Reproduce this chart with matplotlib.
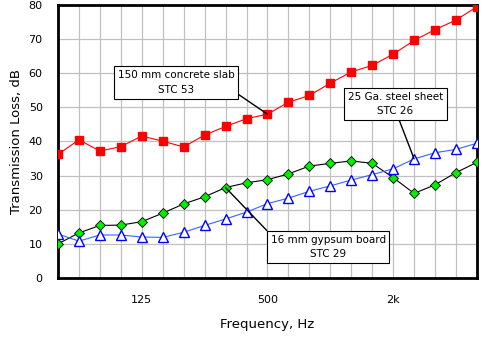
import matplotlib
matplotlib.use('Agg')
import matplotlib.pyplot as plt

# Third-octave bands 50 Hz .. 5 kHz
bands = ['50', '63', '80', '100', '125', '160', '200', '250', '315', '400', '500',
         '630', '800', '1k', '1.25k', '1.6k', '2k', '2.5k', '3.15k', '4k', '5k']
tickLabels = {'125': '125', '500': '500', '2k': '2k'}

concrete = [36.2, 40.5, 37.2, 38.5, 41.6, 40.1, 38.4, 41.9, 44.4, 46.7, 48.0,
            51.5, 53.5, 57.1, 60.4, 62.3, 65.6, 69.6, 72.8, 75.6, 79.5]
gypsum = [10.0, 13.2, 15.4, 15.5, 16.5, 19.0, 21.7, 23.8, 26.5, 27.9, 28.8,
          30.5, 32.8, 33.6, 34.3, 33.6, 29.4, 24.8, 27.3, 30.9, 33.9]
steel = [12.9, 10.8, 12.6, 12.6, 12.0, 11.9, 13.4, 15.4, 17.3, 19.3, 21.8,
         23.4, 25.4, 27.0, 28.7, 30.3, 32.0, 34.9, 36.7, 37.7, 39.5]

x = list(range(len(bands)))

fig = plt.figure(figsize=(4.84, 3.41), dpi=100)
ax = fig.add_axes([0.1198, 0.1848, 0.8657, 0.8005])

ax.plot(x, concrete, color='red', lw=0.8, marker='s', ms=5.5,
        mfc='red', mec='red', zorder=4)
ax.plot(x, gypsum, color='black', lw=0.8, marker='D', ms=5,
        mfc='#00ee00', mec='black', mew=0.6, zorder=4)
ax.plot(x, steel, color='#3366ff', lw=0.8, marker='^', ms=7,
        mfc='white', mec='blue', mew=1.0, zorder=4)

ax.set_xlim(0, len(bands) - 1)
ax.set_ylim(0, 80)
ax.set_xticks(x, minor=False)
ax.set_xticklabels([tickLabels.get(b, '') for b in bands], fontsize=8)
ax.set_yticks(range(0, 81, 10))
ax.tick_params(axis='x', length=0, labelsize=8, pad=12.5)
ax.tick_params(axis='y', length=0, labelsize=8, pad=11)
ax.grid(True, color='#c0c0c0', lw=0.9)
ax.set_axisbelow(True)
for s in ax.spines.values():
    s.set_linewidth(2)
    s.set_color('black')

ax.set_xlabel('Frequency, Hz', fontsize=9.5, labelpad=9)
ax.set_ylabel('Transmission Loss, dB', fontsize=9.5, labelpad=4)

box = dict(boxstyle='square,pad=0.35', fc='white', ec='black', lw=0.8)
arrow = dict(arrowstyle='-', color='black', lw=1.0, shrinkA=0, shrinkB=0)

ax.annotate('150 mm concrete slab\nSTC 53', xy=(10, concrete[10]),
            xytext=(5.65, 57.3), fontsize=7.5, ha='center', va='center',
            linespacing=1.6, bbox=box,
            arrowprops=dict(arrow, relpos=(1, 0.12)), zorder=6)
ax.annotate('25 Ga. steel sheet\nSTC 26', xy=(17, steel[17]),
            xytext=(16.1, 51.0), fontsize=7.5, ha='center', va='center',
            linespacing=1.6, bbox=box,
            arrowprops=dict(arrow, relpos=(0.51, 0.16)), zorder=6)
ax.annotate('16 mm gypsum board\nSTC 29', xy=(8, gypsum[8]),
            xytext=(12.9, 9.1), fontsize=7.5, ha='center', va='center',
            linespacing=1.6, bbox=box,
            arrowprops=dict(arrow, relpos=(0, 1)), zorder=6)

fig.savefig('out.png', dpi=100)
